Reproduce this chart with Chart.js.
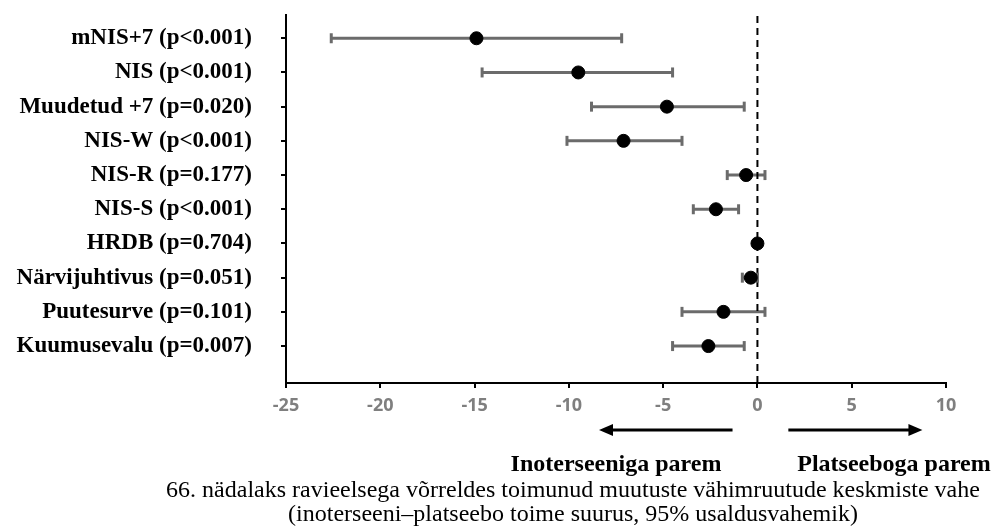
<!DOCTYPE html>
<html>
<head>
<meta charset="utf-8">
<script src="https://cdn.jsdelivr.net/npm/chart.js@4"></script>
<style>
  html, body { margin: 0; padding: 0; background: #ffffff; }
  #wrap { width: 993px; height: 529px; position: relative; }
</style>
</head>
<body>
<div id="wrap"><canvas id="forest"></canvas></div>
<script>
// Outcome labels (top to bottom)
const categories = [
  'mNIS+7 (p<0.001)',
  'NIS (p<0.001)',
  'Muudetud +7 (p=0.020)',
  'NIS-W (p<0.001)',
  'NIS-R (p=0.177)',
  'NIS-S (p<0.001)',
  'HRDB (p=0.704)',
  'Närvijuhtivus (p=0.051)',
  'Puutesurve (p=0.101)',
  'Kuumusevalu (p=0.007)'
];
// LS mean difference and 95% CI
const estimates = [-14.9, -9.5, -4.8, -7.1, -0.6, -2.2, 0.0, -0.35, -1.8, -2.6];
const lowerCI  = [-22.6, -14.6, -8.8, -10.1, -1.6, -3.4, -0.1, -0.8, -4.0, -4.5];
const upperCI  = [-7.2, -4.5, -0.7, -4.0, 0.4, -1.0, 0.1, 0.0, 0.4, -0.7];
const xTicks = [-25, -20, -15, -10, -5, 0, 5, 10];

const serif = "'Liberation Serif', 'Times New Roman', serif";
const whiskerColor = '#6b6b6b';

const rows = categories.map((c, i) => i + 1);

// one line per row for the CI
const whiskerSets = categories.map((c, i) => ({
  type: 'line',
  data: [{ x: lowerCI[i], y: rows[i] }, { x: upperCI[i], y: rows[i] }],
  borderColor: whiskerColor,
  borderWidth: 3,
  pointRadius: 0,
  order: 3
}));

const capPoints = [];
categories.forEach((c, i) => {
  capPoints.push({ x: lowerCI[i], y: rows[i] });
  capPoints.push({ x: upperCI[i], y: rows[i] });
});

// arrows + captions under the axis
const captionPlugin = {
  id: 'captions',
  afterDraw(chart) {
    const ctx = chart.ctx;
    const xs = chart.scales.x;
    const ay = 430;
    function arrow(from, to) {
      const x1 = xs.getPixelForValue(from);
      const x2 = xs.getPixelForValue(to);
      const dir = Math.sign(x2 - x1);
      ctx.save();
      ctx.strokeStyle = '#000';
      ctx.fillStyle = '#000';
      ctx.lineWidth = 3;
      ctx.beginPath();
      ctx.moveTo(x1, ay);
      ctx.lineTo(x2 - dir * 10, ay);
      ctx.stroke();
      ctx.beginPath();
      ctx.moveTo(x2, ay);
      ctx.lineTo(x2 - dir * 14, ay - 6);
      ctx.lineTo(x2 - dir * 14, ay + 6);
      ctx.closePath();
      ctx.fill();
      ctx.restore();
    }
    arrow(-1.32, -8.4);
    arrow(1.64, 8.75);

    ctx.save();
    ctx.fillStyle = '#000';
    ctx.textAlign = 'center';
    ctx.textBaseline = 'alphabetic';
    ctx.font = 'bold 24px ' + serif;
    ctx.fillText('Inoterseeniga parem', 616, 471);
    ctx.fillText('Platseeboga parem', 894, 471);
    ctx.font = '24px ' + serif;
    ctx.fillText('66. nädalaks ravieelsega võrreldes toimunud muutuste vähimruutude keskmiste vahe', 573, 497);
    ctx.fillText('(inoterseeni\u2013platseebo toime suurus, 95% usaldusvahemik)', 573, 521);
    ctx.restore();
  }
};

const ctx = document.getElementById('forest').getContext('2d');
new Chart(ctx, {
  type: 'scatter',
  data: {
    datasets: [
      {
        label: 'Hinnang',
        data: estimates.map((v, i) => ({ x: v, y: rows[i] })),
        backgroundColor: '#000',
        borderColor: '#000',
        pointRadius: 6.5,
        order: 0
      },
      {
        label: 'Otsad',
        data: capPoints,
        pointStyle: 'line',
        rotation: 90,
        pointRadius: 5,
        borderColor: whiskerColor,
        borderWidth: 3,
        order: 1
      },
      {
        type: 'line',
        label: 'Null',
        data: [{ x: 0, y: 0 }, { x: 0, y: 12 }],
        borderColor: '#000',
        borderWidth: 2,
        borderDash: [7, 5],
        pointRadius: 0,
        order: 2
      },
      ...whiskerSets
    ]
  },
  options: {
    responsive: true,
    maintainAspectRatio: false,
    animation: false,
    layout: { padding: { top: 15, right: 47, left: 0, bottom: 0 } },
    plugins: {
      legend: { display: false },
      tooltip: { enabled: false }
    },
    scales: {
      x: {
        type: 'linear',
        min: -25,
        max: 10,
        afterBuildTicks(scale) { scale.ticks = xTicks.map(v => ({ value: v })); },
        afterFit(scale) {
          scale.height = 529 - 383;
          scale.paddingLeft = 0;
          scale.paddingRight = 0;
        },
        border: { color: '#000', width: 2 },
        grid: { drawOnChartArea: false, drawTicks: true, tickLength: 5, color: '#000', lineWidth: 2 },
        ticks: {
          color: '#7f7f7f',
          padding: 7,
          maxRotation: 0,
          font: { family: "'Open Sans', sans-serif", weight: 'bold', size: 18 }
        }
      },
      y: {
        type: 'linear',
        reverse: true,
        min: 0.32,
        max: 11.08,
        afterBuildTicks(scale) { scale.ticks = rows.map(v => ({ value: v })); },
        afterFit(scale) {
          scale.width = 286;
          scale.paddingTop = 0;
          scale.paddingBottom = 0;
        },
        border: { color: '#000', width: 2 },
        grid: { drawOnChartArea: false, drawTicks: true, tickLength: 5, color: '#000', lineWidth: 2 },
        ticks: {
          color: '#000',
          padding: 29,
          callback: (v) => categories[v - 1],
          font: { family: serif, weight: 'bold', size: 23 }
        }
      }
    }
  },
  plugins: [captionPlugin]
});
</script>
</body>
</html>
